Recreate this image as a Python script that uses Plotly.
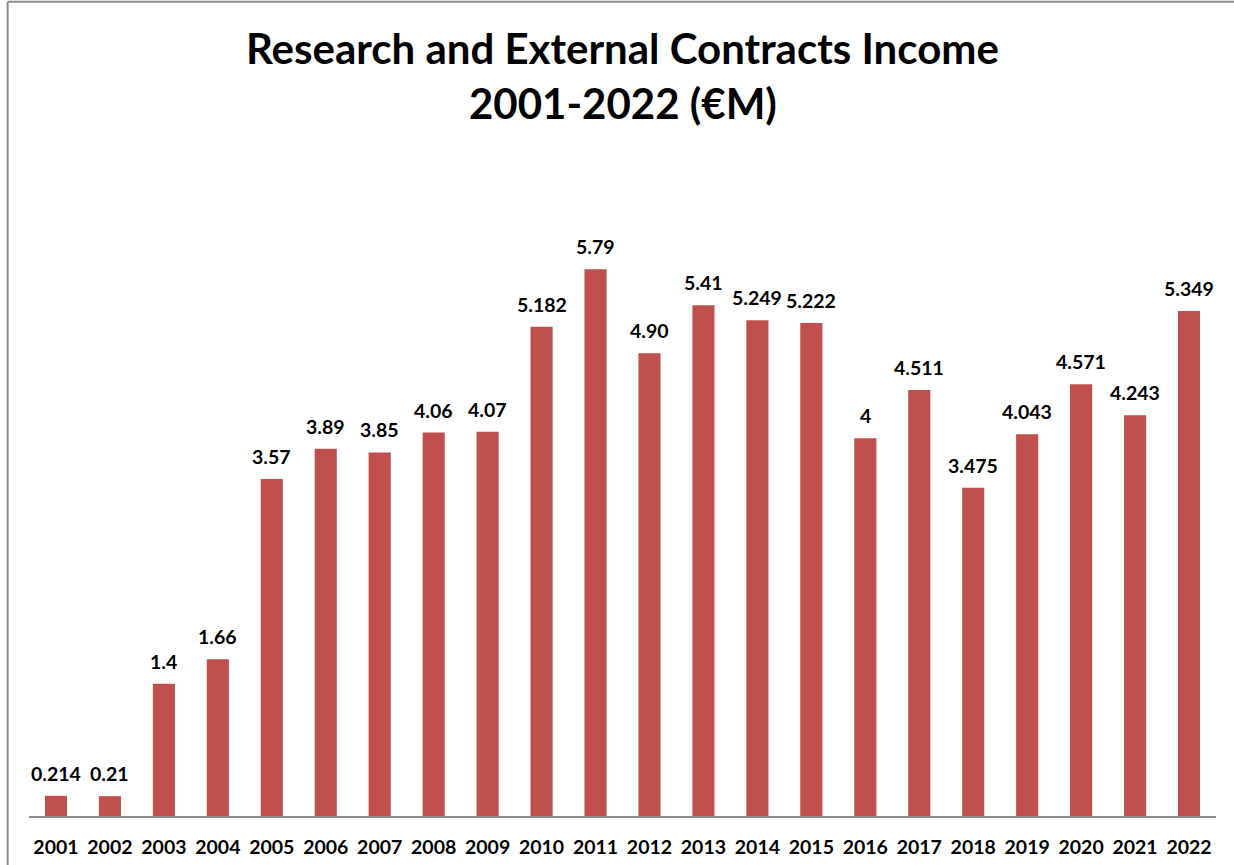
import plotly.graph_objects as go

years = ["2001", "2002", "2003", "2004", "2005", "2006", "2007", "2008", "2009", "2010", "2011",
         "2012", "2013", "2014", "2015", "2016", "2017", "2018", "2019", "2020", "2021", "2022"]
income = [0.214, 0.21, 1.4, 1.66, 3.57, 3.89, 3.85, 4.06, 4.07, 5.182, 5.79,
          4.90, 5.41, 5.249, 5.222, 4, 4.511, 3.475, 4.043, 4.571, 4.243, 5.349]
labels = ["0.214", "0.21", "1.4", "1.66", "3.57", "3.89", "3.85", "4.06", "4.07", "5.182", "5.79",
          "4.90", "5.41", "5.249", "5.222", "4", "4.511", "3.475", "4.043", "4.571", "4.243", "5.349"]
title_lines = ["Research and External Contracts Income", "2001-2022 (€M)"]

FONT = "Lato"
LBL = dict(family=FONT, size=19.5, color="black", weight="bold")

fig = go.Figure(go.Bar(
    x=years, y=income,
    marker=dict(color="#C0504D", line=dict(width=0)),
    hoverinfo="x+y",
))

annotations = []
for i, (v, t) in enumerate(zip(income, labels)):
    annotations.append(dict(x=i, y=v, text=t, xref="x", yref="y", showarrow=False,
                            yanchor="bottom", yshift=9, font=LBL))
for i, line in enumerate(title_lines):
    annotations.append(dict(x=0.5, y=[1.162, 1.079][i], xref="paper", yref="paper",
                            text="<b>" + line + "</b>", showarrow=False,
                            xanchor="center", yanchor="middle",
                            font=dict(family=FONT, size=42, color="black")))

fig.update_layout(
    width=1234, height=865,
    margin=dict(l=29, r=18, t=155, b=49, autoexpand=False),
    paper_bgcolor="white", plot_bgcolor="white",
    bargap=0.59,
    showlegend=False,
    annotations=annotations,
    xaxis=dict(type="category", range=[-0.5, len(years) - 0.5], showline=True,
               linecolor="#8c8c8c", linewidth=2, ticks="", automargin=False,
               ticklabelstandoff=13,
               tickfont=LBL, showgrid=False, zeroline=False),
    yaxis=dict(range=[0, 7], visible=False, showgrid=False, zeroline=False, automargin=False),
    shapes=[
        dict(type="line", xref="paper", yref="paper", x0=-0.018, x1=1.02, y0=1.232, y1=1.232,
             line=dict(color="#8c8c8c", width=2)),
        dict(type="line", xref="paper", yref="paper", x0=-0.018, x1=-0.018, y0=1.232, y1=-0.08,
             line=dict(color="#8c8c8c", width=2)),
    ],
)

fig.write_html("out.html")
